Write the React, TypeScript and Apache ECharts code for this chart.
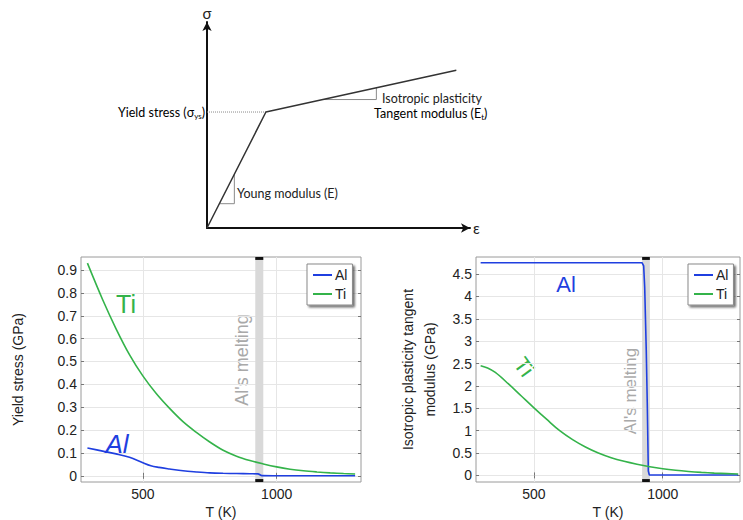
import React, { useEffect, useRef } from "react";
import * as echarts from "echarts";

// ---- Schematic stress-strain curve (normalised units) ----
const schematicStrain = [0, 0.224, 0.948];
const schematicStress = [0, 0.563, 0.766];
const youngTriStrain = [0.047, 0.104, 0.104];
const youngTriStress = [0.118, 0.118, 0.261];
const tangentTriStrain = [0.44, 0.644, 0.644];
const tangentTriStress = [0.6236, 0.6236, 0.6808];
const yieldGuideStrain = [0, 0.224];
const yieldGuideStress = [0.563, 0.563];

// ---- Yield stress (GPa) vs temperature (K) ----
const tiYieldT = [293, 350, 400, 450, 500, 550, 600, 650, 700, 750, 800, 850, 900, 950, 1000, 1050, 1100, 1150, 1200, 1250, 1293];
const tiYield = [0.93, 0.77, 0.643, 0.53, 0.437, 0.36, 0.295, 0.237, 0.19, 0.148, 0.112, 0.086, 0.067, 0.052, 0.039, 0.029, 0.022, 0.017, 0.013, 0.01, 0.008];
const alYieldT = [293, 350, 400, 450, 500, 530, 560, 600, 650, 700, 750, 800, 850, 900, 930, 945, 1000, 1100, 1200, 1293];
const alYield = [0.122, 0.108, 0.096, 0.081, 0.057, 0.044, 0.037, 0.03, 0.022, 0.017, 0.013, 0.011, 0.01, 0.009, 0.0085, 0.001, 0.0005, 0.0003, 0.0002, 0.0002];

// ---- Isotropic plasticity tangent modulus (GPa) vs temperature (K) ----
const tiTangentT = [293, 320, 350, 400, 450, 500, 550, 600, 650, 700, 750, 800, 850, 900, 950, 1000, 1050, 1100, 1150, 1200, 1250, 1293];
const tiTangent = [2.45, 2.4, 2.3, 2.05, 1.78, 1.51, 1.25, 1.0, 0.8, 0.635, 0.5, 0.395, 0.315, 0.25, 0.195, 0.15, 0.115, 0.088, 0.067, 0.051, 0.04, 0.032];
const alTangentT = [293, 900, 920, 926, 930, 936, 940, 944, 948, 1293];
const alTangent = [4.75, 4.75, 4.75, 4.68, 4.2, 2.8, 1.6, 0.1, 0.01, 0.01];

// ---- Axes ----
const tempTicks = [500, 1000];
const yieldTicks = [0, 0.1, 0.2, 0.3, 0.4, 0.5, 0.6, 0.7, 0.8, 0.9];
const tangentTicks = [0, 0.5, 1, 1.5, 2, 2.5, 3, 3.5, 4, 4.5];
const yieldRange = [-0.027, 0.957];
const tangentRange = [-0.147, 4.88];
const yieldTRange = [269, 1315];
const tangentTRange = [275, 1300];
const meltBand = [920, 950];

const BLUE = "#1f3fe0";
const GREEN = "#34b34a";
const CHART_FONT = "Liberation Sans";
const SKETCH_FONT = "Lato";

const zip = (xs: number[], ys: number[]) => xs.map((x, i) => [x, ys[i]]);
const plain = (v: number) => String(v);

function tempAxis(gridIndex: number, range: number[], bottom: boolean) {
  return {
    type: "value",
    gridIndex,
    position: bottom ? "bottom" : "top",
    min: range[0],
    max: range[1],
    axisLine: { show: false },
    axisTick: { show: true, inside: true, length: 3, customValues: tempTicks, lineStyle: { color: "#777" } },
    axisLabel: bottom
      ? { show: true, customValues: tempTicks, formatter: plain, fontSize: 14, color: "#222", margin: 5, fontFamily: CHART_FONT }
      : { show: false },
    splitLine: bottom ? { show: true, lineStyle: { color: "#e6e6e6", width: 1 } } : { show: false },
    name: bottom ? "T (K)" : "",
    nameLocation: "middle",
    nameGap: 23,
    nameTextStyle: { fontSize: 14, color: "#222", fontFamily: CHART_FONT },
  };
}

function valueAxis(gridIndex: number, range: number[], ticks: number[], left: boolean, name: string, nameGap: number) {
  return {
    type: "value",
    gridIndex,
    position: left ? "left" : "right",
    min: range[0],
    max: range[1],
    axisLine: { show: false },
    axisTick: { show: true, inside: true, length: 3, customValues: ticks, lineStyle: { color: "#777" } },
    axisLabel: left
      ? { show: true, customValues: ticks, formatter: plain, fontSize: 14, color: "#222", margin: 4, fontFamily: CHART_FONT }
      : { show: false },
    splitLine: left ? { show: true, lineStyle: { color: "#e6e6e6", width: 1 } } : { show: false },
    name: left ? name : "",
    nameLocation: "middle",
    nameGap,
    nameRotate: 90,
    nameTextStyle: { fontSize: 14, color: "#222", fontFamily: CHART_FONT, lineHeight: 22, align: "center" },
  };
}

function meltArea(range: number[]) {
  const cap = (range[1] - range[0]) * 0.013;
  return {
    silent: true,
    label: { show: false },
    data: [
      [{ xAxis: meltBand[0], itemStyle: { color: "#d9d9d9" } }, { xAxis: meltBand[1] }],
      [{ xAxis: meltBand[0], yAxis: range[1] - cap, itemStyle: { color: "#111" } }, { xAxis: meltBand[1], yAxis: range[1] }],
      [{ xAxis: meltBand[0], yAxis: range[0], itemStyle: { color: "#111" } }, { xAxis: meltBand[1], yAxis: range[0] + cap }],
    ],
  };
}

function curve(name: string, color: string, data: number[][], axis: number, smooth: boolean, withBand?: number[]) {
  const s: any = {
    name,
    type: "line",
    xAxisIndex: axis,
    yAxisIndex: axis,
    data,
    showSymbol: false,
    symbol: "none",
    smooth: smooth ? 0.35 : false,
    lineStyle: { color, width: 1.6 },
    itemStyle: { color },
    z: 3,
  };
  if (withBand) s.markArea = meltArea(withBand);
  return s;
}

function sketchLine(data: number[][], color: string, width: number, type: string = "solid") {
  return {
    type: "line",
    xAxisIndex: 4,
    yAxisIndex: 4,
    data,
    showSymbol: false,
    symbol: "none",
    silent: true,
    lineStyle: { color, width, type },
    z: 3,
  };
}

function sketchAxis(name: string, nameGap: number) {
  return {
    type: "value",
    gridIndex: 2,
    min: 0,
    max: 1,
    axisLine: { show: true, symbol: ["none", "arrow"], symbolSize: [7, 9], lineStyle: { color: "#111", width: 2 } },
    axisTick: { show: false },
    axisLabel: { show: false },
    splitLine: { show: false },
    name,
    nameLocation: "end",
    nameGap,
    nameTextStyle: { fontSize: 15, color: "#222", fontFamily: SKETCH_FONT },
  };
}

const legend = (left: number) => ({
  left,
  top: 264,
  orient: "vertical",
  data: ["Al", "Ti"],
  itemWidth: 19,
  itemHeight: 10,
  itemGap: 5,
  padding: [4, 5, 4, 5],
  backgroundColor: "#fff",
  borderColor: "#888",
  borderWidth: 1,
  borderRadius: 0,
  shadowColor: "rgba(0,0,0,0.55)",
  shadowBlur: 2,
  shadowOffsetX: 2,
  shadowOffsetY: 2,
  selectedMode: false,
  itemStyle: { opacity: 0, borderWidth: 0 },
  lineStyle: { width: 2 },
  textStyle: { fontSize: 14, color: "#222", fontFamily: CHART_FONT, padding: [0, 0, 0, -2] },
});

const subRich = {
  n: { fontSize: 12.5, fontFamily: SKETCH_FONT, color: "#222", lineHeight: 16, verticalAlign: "middle" },
  s: { fontSize: 8, fontFamily: SKETCH_FONT, color: "#222", lineHeight: 8, verticalAlign: "bottom" },
};

function buildOption() {
  return {
    animation: false,
    textStyle: { fontFamily: CHART_FONT },
    grid: [
      { left: 81, top: 257, width: 280, height: 230, show: true, borderColor: "#9a9a9a", borderWidth: 1, backgroundColor: "transparent" },
      { left: 476, top: 257, width: 264, height: 229, show: true, borderColor: "#9a9a9a", borderWidth: 1, backgroundColor: "transparent" },
      { left: 207, top: 22, width: 263, height: 206, show: false },
    ],
    xAxis: [
      tempAxis(0, yieldTRange, true),
      tempAxis(0, yieldTRange, false),
      tempAxis(1, tangentTRange, true),
      tempAxis(1, tangentTRange, false),
      sketchAxis("ε", 3),
    ],
    yAxis: [
      valueAxis(0, yieldRange, yieldTicks, true, "Yield stress (GPa)", 52),
      valueAxis(0, yieldRange, yieldTicks, false, "", 0),
      valueAxis(1, tangentRange, tangentTicks, true, "Isotropic plasticity tangent\nmodulus (GPa)", 35),
      valueAxis(1, tangentRange, tangentTicks, false, "", 0),
      sketchAxis("σ", 2),
    ],
    legend: [legend(307), legend(688)],
    series: [
      curve("Al", BLUE, zip(alYieldT, alYield), 0, true, yieldRange),
      curve("Ti", GREEN, zip(tiYieldT, tiYield), 0, true),
      curve("Al", BLUE, zip(alTangentT, alTangent), 2, false, tangentRange),
      curve("Ti", GREEN, zip(tiTangentT, tiTangent), 2, true),
      sketchLine(zip(yieldGuideStrain, yieldGuideStress), "#8a8a8a", 1, "dotted"),
      sketchLine(zip(youngTriStrain, youngTriStress), "#8a8a8a", 1),
      sketchLine(zip(tangentTriStrain, tangentTriStress), "#8a8a8a", 1),
      sketchLine(zip(schematicStrain, schematicStress), "#333", 1.5),
    ],
    graphic: [
      // schematic annotations
      { type: "text", x: 205, y: 112, style: { text: "{n|Yield stress (σ}{s|ys}{n|)}", rich: subRich, align: "right", verticalAlign: "middle" } },
      { type: "text", x: 237, y: 193, style: { text: "Young modulus (E)", fontSize: 12.5, fontFamily: SKETCH_FONT, fill: "#222", align: "left", verticalAlign: "middle" } },
      { type: "text", x: 382, y: 98, style: { text: "Isotropic plasticity", fontSize: 12.5, fontFamily: SKETCH_FONT, fill: "#222", align: "left", verticalAlign: "middle" } },
      { type: "text", x: 374, y: 113, style: { text: "{n|Tangent modulus (E}{s|t}{n|)}", rich: subRich, align: "left", verticalAlign: "middle" } },
      // yield stress chart annotations
      { type: "text", x: 126, y: 304, style: { text: "Ti", fontSize: 25, fontFamily: CHART_FONT, fill: GREEN, align: "center", verticalAlign: "middle" } },
      { type: "text", x: 117, y: 444, style: { text: "Al", fontSize: 26, fontStyle: "italic", fontFamily: CHART_FONT, fill: BLUE, align: "center", verticalAlign: "middle" } },
      { type: "text", x: 242, y: 360, rotation: Math.PI / 2, style: { text: "Al's melting", fontSize: 18, fontFamily: CHART_FONT, fill: "#a9a9a9", align: "center", verticalAlign: "middle" } },
      // tangent modulus chart annotations
      { type: "text", x: 566, y: 284, style: { text: "Al", fontSize: 22, fontFamily: CHART_FONT, fill: BLUE, align: "center", verticalAlign: "middle" } },
      { type: "text", x: 524, y: 367, rotation: -Math.PI * 0.3, style: { text: "Ti", fontSize: 22, fontFamily: CHART_FONT, fill: GREEN, align: "center", verticalAlign: "middle" } },
      { type: "text", x: 630, y: 391, rotation: Math.PI / 2, style: { text: "Al's melting", fontSize: 17, fontFamily: CHART_FONT, fill: "#a9a9a9", align: "center", verticalAlign: "middle" } },
    ],
  };
}

export default function App() {
  const ref = useRef<HTMLDivElement>(null);
  useEffect(() => {
    if (!ref.current) return;
    const chart = echarts.init(ref.current, undefined, { renderer: "svg" });
    chart.setOption(buildOption() as any);
    return () => chart.dispose();
  }, []);
  return (
    <div
      ref={ref}
      style={{ position: "fixed", left: 0, top: 0, width: 743, height: 520, background: "#fff" }}
    />
  );
}
